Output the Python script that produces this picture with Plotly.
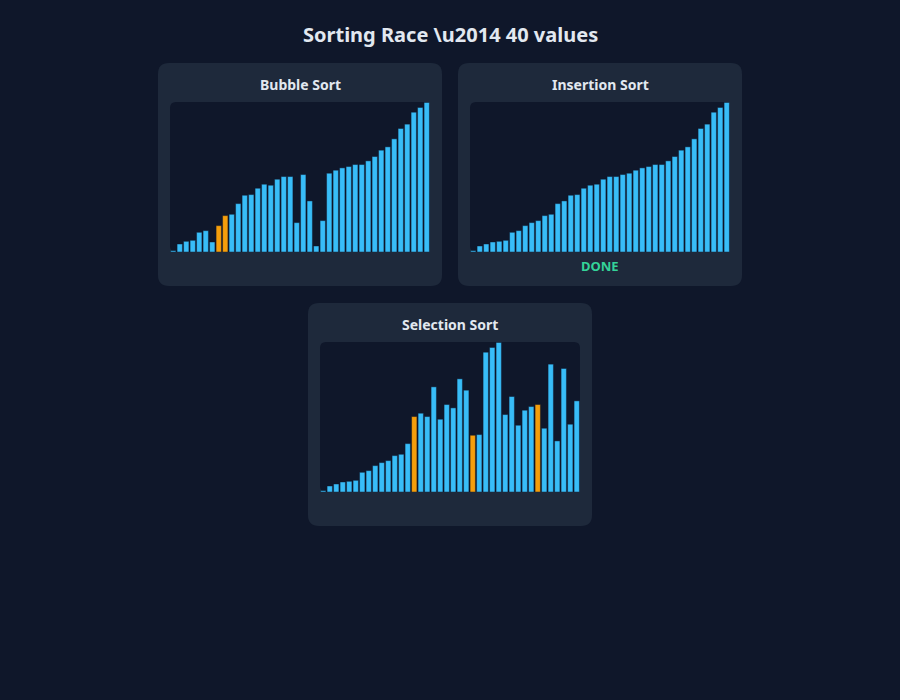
import plotly.graph_objects as go

TITLE = "Sorting Race \\u2014 40 values"
PANEL_TITLES = ["Bubble Sort", "Insertion Sort", "Selection Sort"]
STATUS = ["", "DONE", ""]

bubble_values = [4, 24, 32, 35, 59, 64, 30, 79, 109, 113, 145, 170, 172, 191, 203, 200,
                 218, 226, 226, 88, 232, 153, 18, 94, 236, 245, 252, 256, 262, 262,
                 273, 286, 305, 315, 339, 370, 383, 419, 433, 448]
bubble_active = [7, 8]

insertion_values = [4, 18, 24, 30, 32, 35, 59, 64, 79, 88, 94, 109, 113, 145, 153, 170,
                    172, 191, 200, 203, 218, 226, 226, 232, 236, 245, 252, 256, 262, 262,
                    273, 286, 305, 315, 339, 370, 383, 419, 433, 448]
insertion_active = []

selection_values = [4, 18, 24, 30, 32, 35, 59, 64, 79, 88, 94, 109, 113, 145, 226, 236,
                    226, 315, 218, 262, 252, 339, 305, 170, 172, 419, 433, 448, 232, 286,
                    200, 245, 256, 262, 191, 383, 153, 370, 203, 273]
selection_active = [14, 23, 33]

BG = "#0f172a"
PANEL = "#1e293b"
BAR = "#38bdf8"
HILITE = "#f59e0b"
TEXT = "#e2e8f0"
DONE = "#34d399"
FONT = "Noto Sans"

W, H = 900, 700
# panel boxes in pixels: (x0, y0, x1, y1) and chart areas
panels = [(158, 63, 442, 286), (458, 63, 742, 286), (308, 303, 592, 526)]
areas = [(170, 102, 430, 252), (470, 102, 730, 252), (320, 342, 580, 492)]
title_y = [84.5, 84.5, 324.5]
status_y = [266, 266, 506]
series = [(bubble_values, bubble_active), (insertion_values, insertion_active),
          (selection_values, selection_active)]


def rr_path(x0, y0, x1, y1, r):
    def px(x):
        return x / W

    def py(y):
        return 1 - y / H
    rx, ry = r / W, r / H
    X0, X1, Y0, Y1 = px(x0), px(x1), py(y1), py(y0)
    return (f"M{X0+rx},{Y1} L{X1-rx},{Y1} Q{X1},{Y1} {X1},{Y1-ry} "
            f"L{X1},{Y0+ry} Q{X1},{Y0} {X1-rx},{Y0} L{X0+rx},{Y0} "
            f"Q{X0},{Y0} {X0},{Y0+ry} L{X0},{Y1-ry} Q{X0},{Y1} {X0+rx},{Y1} Z")


fig = go.Figure()
shapes = []
annotations = []
for i, ((vals, active), box, area, ptitle, status) in enumerate(
        zip(series, panels, areas, PANEL_TITLES, STATUS)):
    n = i + 1
    xa = "x" if n == 1 else f"x{n}"
    ya = "y" if n == 1 else f"y{n}"
    colors = [HILITE if j in active else BAR for j in range(len(vals))]
    fig.add_trace(go.Bar(
        x=list(range(len(vals))), y=vals, xaxis=xa, yaxis=ya,
        marker=dict(color=colors, line=dict(color="rgba(15,23,42,0.45)", width=1)),
        showlegend=False, hoverinfo="skip"))
    axkey = "xaxis" if n == 1 else f"xaxis{n}"
    aykey = "yaxis" if n == 1 else f"yaxis{n}"
    fig.update_layout(**{
        axkey: dict(domain=[area[0] / W, area[2] / W], range=[-0.5, len(vals) - 0.5],
                    visible=False, anchor=ya, fixedrange=True),
        aykey: dict(domain=[1 - area[3] / H, 1 - area[1] / H], range=[0, max(vals) * 1.003],
                    visible=False, anchor=xa, fixedrange=True),
    })
    shapes.append(dict(type="path", xref="paper", yref="paper", path=rr_path(*box, 11),
                       fillcolor=PANEL, line=dict(width=0), layer="below"))
    shapes.append(dict(type="path", xref="paper", yref="paper", path=rr_path(*area, 6),
                       fillcolor=BG, line=dict(width=0), layer="below"))
    cx = (box[0] + box[2]) / 2 / W
    annotations.append(dict(text=f"<b>{ptitle}</b>", x=cx, y=1 - title_y[i] / H, xref="paper",
                            yref="paper", showarrow=False, xanchor="center", yanchor="middle",
                            font=dict(family=FONT, size=14, color=TEXT)))
    if status:
        annotations.append(dict(text=f"<b>{status}</b>", x=cx, y=1 - status_y[i] / H,
                                xref="paper", yref="paper", showarrow=False,
                                xanchor="center", yanchor="middle",
                                font=dict(family=FONT, size=13, color=DONE)))

annotations.append(dict(text=f"<b>{TITLE}</b>", x=0.5, y=1 - 34 / H, xref="paper", yref="paper",
                        showarrow=False, xanchor="center", yanchor="middle",
                        font=dict(family=FONT, size=20, color=TEXT)))

fig.update_layout(
    width=W, height=H, margin=dict(l=0, r=0, t=0, b=0),
    paper_bgcolor=BG, plot_bgcolor="rgba(0,0,0,0)",
    bargap=0.18, shapes=shapes, annotations=annotations,
    font=dict(family=FONT, color=TEXT),
)

fig.write_html("out.html", config={"displayModeBar": False})
